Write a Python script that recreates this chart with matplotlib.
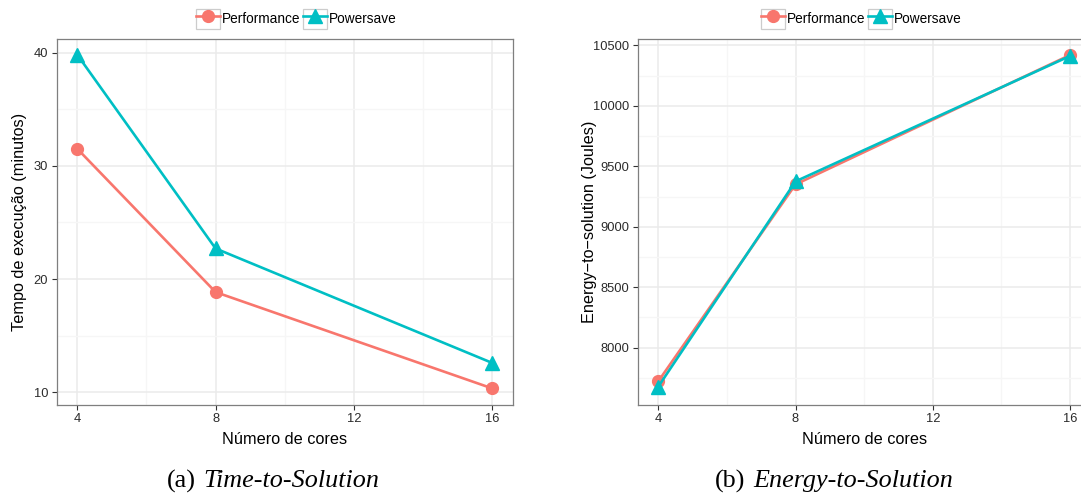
import matplotlib
matplotlib.use("Agg")
import matplotlib.pyplot as plt
from matplotlib.legend_handler import HandlerLine2D
from matplotlib.patches import Rectangle
from matplotlib.ticker import MultipleLocator

plt.rcParams["font.family"] = ["Liberation Sans", "DejaVu Sans"]

# Data
cores = [4, 8, 16]
time_performance = [31.5, 18.85, 10.35]
time_powersave = [39.8, 22.7, 12.6]
energy_performance = [7722, 9350, 10420]
energy_powersave = [7678, 9375, 10412]
series_names = ["Performance", "Powersave"]
x_ticks = [4, 8, 12, 16]
time_ticks = [10, 20, 30, 40]
energy_ticks = [8000, 8500, 9000, 9500, 10000, 10500]
captions = [("(a)", "Time-to-Solution"), ("(b)", "Energy-to-Solution")]

RED = "#F8766D"
CYAN = "#00BFC4"
W, H = 1081, 496


class BoxedLine(HandlerLine2D):
    """Legend key drawn inside a small framed square."""

    def create_artists(self, legend, orig_handle, xdescent, ydescent,
                       width, height, fontsize, trans):
        box = Rectangle((-xdescent, -ydescent), width, height,
                        facecolor="white", edgecolor="#CCCCCC", lw=0.9,
                        transform=trans)
        arts = super().create_artists(legend, orig_handle, xdescent, ydescent,
                                      width, height, fontsize, trans)
        return [box] + list(arts)


fig = plt.figure(figsize=(W / 100, H / 100), dpi=100)


def px_axes(left, top, width, height):
    return fig.add_axes([left / W, 1 - (top + height) / H, width / W, height / H])


def style(ax, ylim, yminor):
    ax.set_xlim(3.4, 16.6)
    ax.set_ylim(*ylim)
    ax.set_xticks(x_ticks)
    ax.xaxis.set_minor_locator(MultipleLocator(2))
    ax.yaxis.set_minor_locator(MultipleLocator(yminor))
    ax.grid(which="major", color="#EBEBEB", lw=1.1, zorder=0)
    ax.grid(which="minor", color="#F6F6F6", lw=1.0, zorder=0)
    ax.set_axisbelow(True)
    for s in ax.spines.values():
        s.set_color("#7F7F7F")
        s.set_linewidth(0.9)
    ax.tick_params(which="major", length=3.5, width=0.8, color="#333333",
                   labelsize=9.3, labelcolor="#2B2B2B", pad=2.5)
    ax.tick_params(which="minor", length=0)
    ax.set_xlabel("Número de cores", fontsize=11.7, labelpad=5)


def plot_pair(ax, a, b):
    l1, = ax.plot(cores, a, color=RED, lw=1.9, marker="o", ms=8.5,
                  label=series_names[0], zorder=3)
    l2, = ax.plot(cores, b, color=CYAN, lw=1.9, marker="^", ms=10.5,
                  label=series_names[1], zorder=4)
    return [l1, l2]


def add_legend(handles, left_px, top_px):
    fig.legend(handles=handles, loc="upper left",
               bbox_to_anchor=(left_px / W, 1 - top_px / H),
               ncol=2, frameon=False, fontsize=9.8, numpoints=1,
               handlelength=1.76, handleheight=1.84, handletextpad=0.12,
               columnspacing=0.22, borderpad=0, borderaxespad=0,
               handler_map={plt.Line2D: BoxedLine()})


# Left panel: time to solution
ax1 = px_axes(56.6, 39, 456.2, 366)
style(ax1, (8.88, 41.2), 5)
ax1.set_yticks(time_ticks)
h1 = plot_pair(ax1, time_performance, time_powersave)
ax1.set_ylabel("Tempo de execução (minutos)", fontsize=11.7)
ax1.yaxis.set_label_coords(-0.065, 0.5)
add_legend(h1, 196, 9)

# Right panel: energy to solution
ax2 = px_axes(637.7, 39.3, 452.9, 365.7)
style(ax2, (7526, 10550), 250)
ax2.set_yticks(energy_ticks)
h2 = plot_pair(ax2, energy_performance, energy_powersave)
ax2.set_ylabel("Energy\u2212to\u2212solution (Joules)", fontsize=11.7)
ax2.yaxis.set_label_coords(-0.0899, 0.5)
add_legend(h2, 761, 9)

# Sub-figure captions: tag right-aligned, italic title left-aligned after a gap
for (tag, title), (x_tag, x_title) in zip(captions, [(196, 203), (745, 753)]):
    fig.text(x_tag / W, 1 - 481 / H, tag, fontsize=18.8,
             family="Liberation Serif", ha="right", va="center")
    fig.text(x_title / W, 1 - 481 / H, title, fontsize=18.8, style="italic",
             family="Liberation Serif", ha="left", va="center")

fig.savefig("out.png", dpi=100)
